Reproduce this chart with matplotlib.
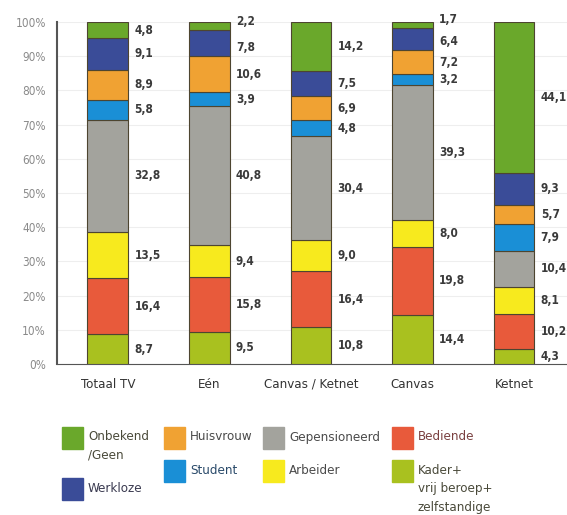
import numpy as np
import matplotlib.pyplot as plt
from matplotlib.patches import Rectangle

channels = ["Totaal TV", "Eén", "Canvas / Ketnet", "Canvas", "Ketnet"]
groups = ["Kader+", "Bediende", "Arbeider", "Gepensioneerd", "Student",
          "Huisvrouw", "Werkloze", "Onbekend /Geen"]
kader = [8.7, 9.5, 10.8, 14.4, 4.3]
bediende = [16.4, 15.8, 16.4, 19.8, 10.2]
arbeider = [13.5, 9.4, 9.0, 8.0, 8.1]
gepens = [32.8, 40.8, 30.4, 39.3, 10.4]
student = [5.8, 3.9, 4.8, 3.2, 7.9]
huisvrouw = [8.9, 10.6, 6.9, 7.2, 5.7]
werkloze = [9.1, 7.8, 7.5, 6.4, 9.3]
onbekend = [4.8, 2.2, 14.2, 1.7, 44.1]
series = [kader, bediende, arbeider, gepens, student, huisvrouw, werkloze, onbekend]
colors = ["#a9c11f", "#e85a3b", "#f7ea1e", "#a3a39d", "#1a8fd6",
          "#f0a233", "#3a4c98", "#6aa82b"]

W, H = 567, 515
fig = plt.figure(figsize=(W / 100, H / 100), dpi=100)
ax = fig.add_axes([57 / W, (H - 364) / H, (W - 57) / W, (364 - 22) / H])

fs = dict(family=["DejaVu Sans"], stretch="condensed")
x = np.arange(len(channels))
bw = 0.40
bottom = np.zeros(len(channels))
# small offsets (points) for crowded labels at the top
offs = {(6, 1): -3, (7, 1): 3, (6, 3): -2, (7, 3): 4}
for i, vals in enumerate(series):
    vals = np.array(vals)
    ax.bar(x, vals, bw, bottom=bottom, color=colors[i],
           edgecolor="#4d4530", linewidth=0.8, zorder=3)
    for j, v in enumerate(vals):
        yc = bottom[j] + v / 2
        ax.annotate(f"{v:.1f}".replace(".", ","), (x[j] + bw / 2, yc),
                    xytext=(4.5, offs.get((i, j), 0)), textcoords="offset points",
                    va="center", ha="left", fontsize=8.5, fontweight="bold",
                    color="#3a3a3a", **fs)
    bottom += vals

ax.set_xlim(-0.5, 4.52)
ax.set_ylim(0, 100)
ax.set_yticks(range(0, 101, 10))
ax.set_yticklabels([f"{t}%" for t in range(0, 101, 10)], fontsize=8.5,
                   color="#8a8a8a", **fs)
ax.set_xticks(x)
ax.set_xticklabels(channels, fontsize=9.5, color="#333333", **fs)
ax.tick_params(length=0, pad=8)
ax.tick_params(axis="x", pad=10)
ax.grid(axis="y", color="#eeeeee", linewidth=0.8, zorder=0)
for s in ["top", "right"]:
    ax.spines[s].set_visible(False)
ax.spines["left"].set_color("#555555")
ax.spines["bottom"].set_color("#555555")
ax.spines["left"].set_linewidth(1.5)

# legend
leg = [
    (62, 427, 7, ["Onbekend", "/Geen"], "#4a4a3a"),
    (62, 478, 6, ["Werkloze"], "#3a3a50"),
    (164, 427, 5, ["Huisvrouw"], "#4a4a4a"),
    (164, 460, 4, ["Student"], "#2a4a6a"),
    (263, 427, 3, ["Gepensioneerd"], "#4a4a4a"),
    (263, 460, 2, ["Arbeider"], "#4a4a4a"),
    (392, 427, 1, ["Bediende"], "#7a4040"),
    (392, 460, 0, ["Kader+", "vrij beroep+", "zelfstandige"], "#4a4a3a"),
]
for px, py, k, lines, tc in leg:
    fig.patches.append(Rectangle((px / W, (H - py - 22) / H), 21 / W, 22 / H,
                                 transform=fig.transFigure, color=colors[k]))
    for n, t in enumerate(lines):
        fig.text((px + 26) / W, (H - py - 10 - n * 18.5) / H, t,
                 fontsize=9.5, color=tc, va="center", ha="left", **fs)

fig.savefig("out.png", dpi=100)
